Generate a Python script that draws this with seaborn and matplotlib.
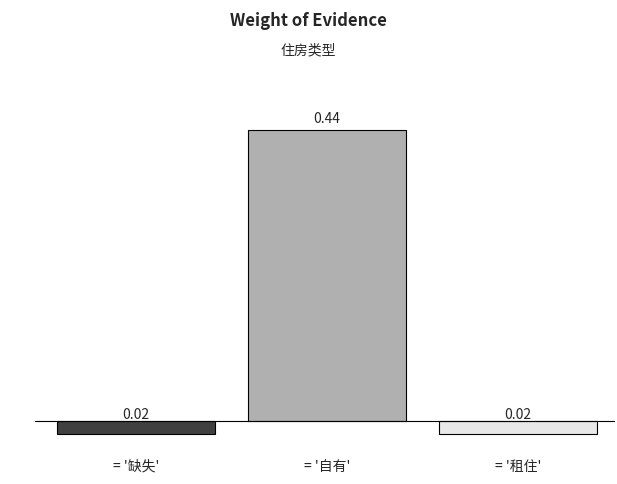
import matplotlib
matplotlib.use("Agg")
import matplotlib.pyplot as plt
import seaborn as sns
import pandas as pd

categories = ["= '缺失'", "= '自有'", "= '租住'"]
woe = [-0.02, 0.44, -0.02]
colors = ["#404040", "#b0b0b0", "#e8e8e8"]

sns.set_style("white")
plt.rcParams['font.family'] = ['Noto Sans CJK SC', 'DejaVu Sans']

df = pd.DataFrame({"cat": categories, "woe": woe})
fig = plt.figure(figsize=(6.17, 4.85), dpi=100)
ax = fig.add_axes([35/617, 35/485, 580/617, 350/485])
sns.barplot(data=df, x="cat", y="woe", hue="cat", palette=colors, legend=False,
            edgecolor="black", linewidth=0.8, width=0.83, ax=ax)
ax.set_xlim(-0.53, 2.51)
ax.set_ylim(-0.0424, 0.487)
ax.axhline(0, color="black", linewidth=0.8)
for s in ax.spines.values():
    s.set_visible(False)
ax.set_yticks([])
ax.set_xticks([])
ax.set_xlabel(""); ax.set_ylabel("")
for i, v in enumerate(woe):
    y = v + 0.008 if v > 0 else 0.0
    ax.text(i, y, f"{abs(v):.2f}", ha="center", va="bottom", fontsize=10)
    fig.text((35 + (i + 0.53) / 3.04 * 580) / 617, 1 - 467/485, categories[i],
             ha="center", va="center", fontsize=10)
fig.text(0.5, 1 - 21/485, "Weight of Evidence", ha="center", va="center",
         fontsize=12, fontweight="bold")
fig.text(0.5, 1 - 50/485, "住房类型", ha="center", va="center", fontsize=10)
fig.savefig("out.png", dpi=100)
